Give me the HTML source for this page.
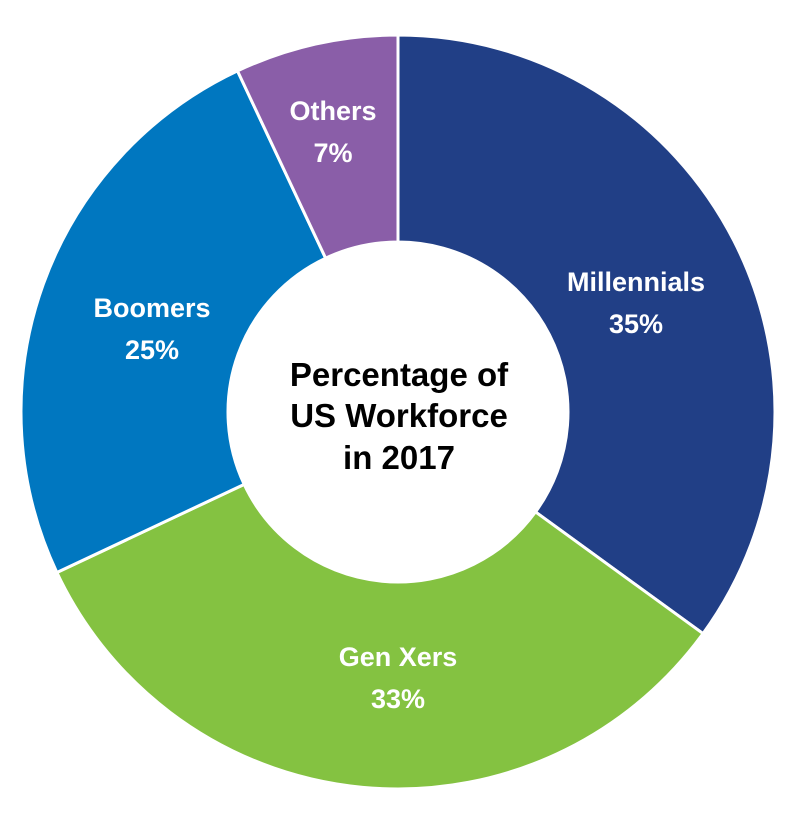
<!DOCTYPE html>
<html><head><meta charset="utf-8"><style>
html,body{margin:0;padding:0;background:#fff;}
svg{display:block;}
.lbl{font-family:"Liberation Sans",sans-serif;font-weight:bold;fill:#fff;font-size:27px;text-anchor:middle;}
.ctr{font-family:"Liberation Sans",sans-serif;font-weight:bold;fill:#000;font-size:33px;text-anchor:middle;}
</style></head><body>
<svg id="chart" width="795" height="822">
<g id="slices"></g>
<g id="labels"></g>
<text class="ctr" x="399" y="386">Percentage of</text>
<text class="ctr" x="399" y="427">US Workforce</text>
<text class="ctr" x="399" y="469">in 2017</text>
</svg>
<script>
const categories = ["Millennials","Gen Xers","Boomers","Others"];
const values = [35,33,25,7];
const colors = ["#213f86","#84c241","#0077c0","#8a5ea8"];
const cx=398, cy=412, R=377, r=170;
const labelPos = [[636,291],[398,666],[152,317],[333,120]];
const ns="http://www.w3.org/2000/svg";
const total=values.reduce((a,b)=>a+b,0);
function pt(a,rad){return [cx+rad*Math.sin(a), cy-rad*Math.cos(a)];}
let acc=0;
const gs=document.getElementById('slices'), gl=document.getElementById('labels');
values.forEach((v,i)=>{
  const a0=acc/total*2*Math.PI; acc+=v; const a1=acc/total*2*Math.PI;
  const large=(a1-a0)>Math.PI?1:0;
  const [x0,y0]=pt(a0,R),[x1,y1]=pt(a1,R),[x2,y2]=pt(a1,r),[x3,y3]=pt(a0,r);
  const p=document.createElementNS(ns,'path');
  p.setAttribute('d',`M${x0},${y0}A${R},${R} 0 ${large} 1 ${x1},${y1}L${x2},${y2}A${r},${r} 0 ${large} 0 ${x3},${y3}Z`);
  p.setAttribute('fill',colors[i]); p.setAttribute('stroke','#fff'); p.setAttribute('stroke-width','3');
  
  
  gs.appendChild(p);
  const [lx,ly]=labelPos[i];
  const t1=document.createElementNS(ns,'text');
  t1.setAttribute('class','lbl'); t1.setAttribute('x',lx); t1.setAttribute('y',ly);
  t1.textContent=categories[i];
  
  
  gl.appendChild(t1);
  const t2=document.createElementNS(ns,'text');
  t2.setAttribute('class','lbl'); t2.setAttribute('x',lx); t2.setAttribute('y',ly+42);
  t2.textContent=v+'%';
  
  
  gl.appendChild(t2);
});
</script>
</body></html>
